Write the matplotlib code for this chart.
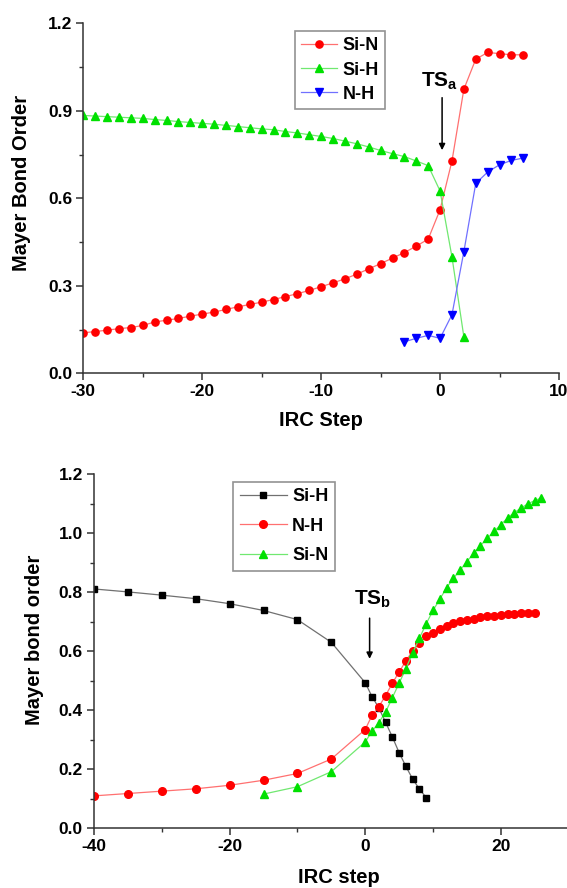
import matplotlib
matplotlib.use("Agg")
import matplotlib.pyplot as plt
from matplotlib.ticker import MultipleLocator, FormatStrFormatter

plt.rcParams['font.family'] = ['Liberation Sans', 'DejaVu Sans']
plt.rcParams['font.weight'] = 'bold'
plt.rcParams['axes.unicode_minus'] = False
plt.rcParams['mathtext.fontset'] = 'custom'
plt.rcParams['mathtext.rm'] = 'Liberation Sans:bold'
plt.rcParams['mathtext.bf'] = 'Liberation Sans:bold'

# ---- upper panel: TS_a ----
a_sin_x = list(range(-30, 8))
a_sin_y = [0.139, 0.143, 0.148, 0.153, 0.157, 0.164, 0.176, 0.182, 0.188, 0.196,
           0.203, 0.210, 0.219, 0.228, 0.236, 0.244, 0.253, 0.263, 0.273, 0.284,
           0.297, 0.310, 0.324, 0.340, 0.358, 0.376, 0.395, 0.414, 0.436, 0.460,
           0.561, 0.728, 0.974, 1.077, 1.100, 1.096, 1.092, 1.092]
a_sih_x = list(range(-30, 3))
a_sih_y = [0.884, 0.882, 0.880, 0.878, 0.876, 0.874, 0.870, 0.867, 0.863, 0.860,
           0.857, 0.854, 0.850, 0.846, 0.842, 0.838, 0.835, 0.829, 0.824, 0.818,
           0.812, 0.805, 0.796, 0.787, 0.776, 0.764, 0.753, 0.743, 0.728, 0.712,
           0.625, 0.399, 0.125]
a_nh_x = list(range(-3, 8))
a_nh_y = [0.108, 0.120, 0.130, 0.120, 0.201, 0.417, 0.651, 0.690, 0.715, 0.730, 0.738]

# ---- lower panel: TS_b ----
b_sih_x = [-40, -35, -30, -25, -20, -15, -10, -5, 0, 1, 2, 3, 4, 5, 6, 7, 8, 9]
b_sih_y = [0.811, 0.801, 0.790, 0.778, 0.761, 0.738, 0.707, 0.630, 0.493, 0.446,
           0.408, 0.359, 0.309, 0.256, 0.209, 0.166, 0.132, 0.103]
b_nh_x = [-40, -35, -30, -25, -20, -15, -10, -5] + list(range(0, 26))
b_nh_y = [0.109, 0.117, 0.125, 0.133, 0.145, 0.162, 0.185, 0.234,
          0.334, 0.382, 0.411, 0.449, 0.491, 0.529, 0.567, 0.601, 0.627, 0.650,
          0.662, 0.676, 0.687, 0.694, 0.701, 0.707, 0.710, 0.715, 0.718, 0.720,
          0.724, 0.725, 0.726, 0.728, 0.729, 0.730]
b_sin_x = [-15, -10, -5] + list(range(0, 27))
b_sin_y = [0.115, 0.140, 0.191,
           0.292, 0.328, 0.357, 0.393, 0.442, 0.491, 0.541, 0.594, 0.644, 0.693,
           0.738, 0.776, 0.815, 0.847, 0.875, 0.904, 0.932, 0.958, 0.983, 1.006,
           1.029, 1.052, 1.070, 1.086, 1.100, 1.111, 1.120]

RED, GREEN, BLUE, BLACK = '#ff0000', '#00e000', '#0000ff', '#000000'
LRED, LGREEN, LBLUE, LGRAY = '#ff7070', '#70e870', '#7070ff', '#707070'

W, H = 567, 888
fig = plt.figure(figsize=(W / 100, H / 100), dpi=100)

def px_axes(left, right, top, bottom):
    return fig.add_axes([left / W, 1 - bottom / H, (right - left) / W, (bottom - top) / H])

ax1 = px_axes(83.3, 559.0, 23.3, 373.3)
ax2 = px_axes(94.0, 568.6, 474.3, 828.0)

def style(ax, xmaj, xmin, ymaj, ymin):
    for s in ('top', 'right'):
        ax.spines[s].set_visible(False)
    for s in ('left', 'bottom'):
        ax.spines[s].set_linewidth(1.1)
        ax.spines[s].set_color('#333333')
    ax.xaxis.set_major_locator(MultipleLocator(xmaj))
    ax.xaxis.set_minor_locator(MultipleLocator(xmin))
    ax.yaxis.set_major_locator(MultipleLocator(ymaj))
    ax.yaxis.set_minor_locator(MultipleLocator(ymin))
    ax.yaxis.set_major_formatter(FormatStrFormatter('%.1f'))
    ax.tick_params(which='major', direction='out', length=5, width=1.1,
                   labelsize=12.5, pad=3, color='#333333')
    ax.tick_params(which='minor', direction='out', length=3, width=1.0, color='#333333')

def bold_ticks(ax):
    for lab in ax.get_xticklabels() + ax.get_yticklabels():
        lab.set_fontweight('bold')

def add_legend(ax, anchor, handlelength, labelspacing):
    leg = ax.legend(loc='upper left', bbox_to_anchor=anchor, fontsize=13,
                    fancybox=False, edgecolor='#777777', numpoints=1,
                    handlelength=handlelength, handletextpad=0.3, borderpad=0.35,
                    labelspacing=labelspacing, borderaxespad=0)
    leg.get_frame().set_linewidth(1.2)
    for t in leg.get_texts():
        t.set_fontweight('bold')
    return leg

# upper panel
ax1.plot(a_sin_x, a_sin_y, '-', color=LRED, lw=0.9, marker='o', ms=5.2,
         mfc=RED, mec=RED, label='Si-N')
ax1.plot(a_sih_x, a_sih_y, '-', color=LGREEN, lw=0.9, marker='^', ms=6.3,
         mfc=GREEN, mec=GREEN, label='Si-H')
ax1.plot(a_nh_x, a_nh_y, '-', color=LBLUE, lw=0.9, marker='v', ms=6.3,
         mfc=BLUE, mec=BLUE, label='N-H')
ax1.set_xlim(-30, 10)
ax1.set_ylim(0, 1.2)
style(ax1, 10, 5, 0.3, 0.15)
add_legend(ax1, (0.445, 0.978), 2.0, 0.4)
ax1.text(-1.6, 0.985, r'TS$_{\mathrm{a}}$', fontsize=15, fontweight='bold',
         ha='left', va='baseline')
ax1.annotate('', xy=(0.17, 0.765), xytext=(0.17, 0.945),
             arrowprops=dict(arrowstyle='-|>', color='black', lw=1.1, mutation_scale=9,
                             shrinkA=0, shrinkB=0))
ax1.text(0.5, -0.136, 'IRC Step', transform=ax1.transAxes, fontsize=14.5,
         fontweight='bold', ha='center', va='center')
ax1.text(-0.129, 0.544, 'Mayer Bond Order', transform=ax1.transAxes, fontsize=14.5,
         fontweight='bold', ha='center', va='center', rotation=90)

# lower panel
ax2.plot(b_sih_x, b_sih_y, '-', color=LGRAY, lw=0.9, marker='s', ms=4.7,
         mfc=BLACK, mec=BLACK, label='Si-H')
ax2.plot(b_nh_x, b_nh_y, '-', color=LRED, lw=0.9, marker='o', ms=5.5,
         mfc=RED, mec=RED, label='N-H')
ax2.plot(b_sin_x, b_sin_y, '-', color=LGREEN, lw=0.9, marker='^', ms=6.3,
         mfc=GREEN, mec=GREEN, label='Si-N')
ax2.set_xlim(-40, 30)
ax2.set_ylim(0, 1.2)
style(ax2, 20, 10, 0.2, 0.1)
add_legend(ax2, (0.2935, 0.979), 2.6, 0.7)
ax2.text(-1.6, 0.759, r'TS$_{\mathrm{b}}$', fontsize=15, fontweight='bold',
         ha='left', va='baseline')
ax2.annotate('', xy=(0.65, 0.574), xytext=(0.65, 0.712),
             arrowprops=dict(arrowstyle='-|>', color='black', lw=1.1, mutation_scale=9,
                             shrinkA=0, shrinkB=0))
ax2.text((339 - 94) / 474.6, -(877 - 828) / 353.7, 'IRC step', transform=ax2.transAxes,
         fontsize=14.5, fontweight='bold', ha='center', va='center')
ax2.text(-0.126, 0.533, 'Mayer bond order', transform=ax2.transAxes, fontsize=14.5,
         fontweight='bold', ha='center', va='center', rotation=90)

fig.canvas.draw()
bold_ticks(ax1)
bold_ticks(ax2)

fig.savefig('out.png', dpi=100)
